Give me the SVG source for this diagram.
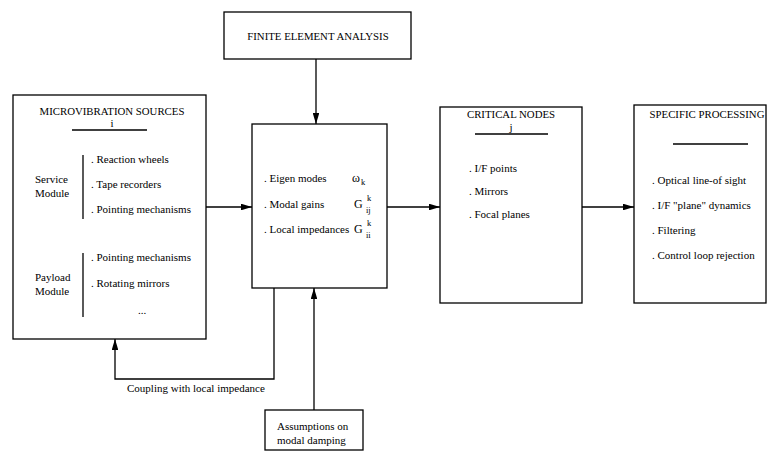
<svg xmlns="http://www.w3.org/2000/svg" width="767" height="456" viewBox="0 0 767 456">
  <style>
    .box { fill: #ffffff; stroke: #000000; stroke-width: 1.3; }
    .rule { stroke: #000000; stroke-width: 1.3; fill: none; }
    .wire { stroke: #000000; stroke-width: 1.3; fill: none; }
    text { font-family: "Liberation Serif", "Times New Roman", serif; font-size: 11px; fill: #000000; }
    .title { font-size: 10.8px; text-anchor: middle; }
    .mid { text-anchor: middle; }
    .sym { font-size: 12px; }
    .idx { font-size: 8.5px; }
  </style>
  <defs>
    <marker id="head" viewBox="0 0 10 6" refX="10" refY="3" markerWidth="11" markerHeight="6.6" markerUnits="userSpaceOnUse" orient="auto">
      <path d="M0,0 L10,3 L0,6 Z" fill="#000000"/>
    </marker>
  </defs>

  <rect width="767" height="456" fill="#ffffff"/>

  <!-- connectors -->
  <g id="connectors">
    <path class="wire" d="M316,59 V124" marker-end="url(#head)"/>
    <path class="wire" d="M206,207 H252" marker-end="url(#head)"/>
    <path class="wire" d="M387,207 H440" marker-end="url(#head)"/>
    <path class="wire" d="M582,207 H634" marker-end="url(#head)"/>
    <path class="wire" d="M274,288 V379 H115 V339" marker-end="url(#head)"/>
    <path class="wire" d="M314,410 V288" marker-end="url(#head)"/>
    <text x="127" y="392">Coupling with local impedance</text>
  </g>

  <!-- finite element analysis -->
  <g id="fea">
    <rect class="box" x="224" y="12" width="187" height="47"/>
    <text class="title" x="318" y="40">FINITE ELEMENT ANALYSIS</text>
  </g>

  <!-- microvibration sources -->
  <g id="sources">
    <rect class="box" x="13" y="95" width="193" height="244"/>
    <text class="title" x="112" y="115">MICROVIBRATION SOURCES</text>
    <text class="mid" x="112" y="127">i</text>
    <line class="rule" x1="72" y1="130" x2="147" y2="130"/>
    <line class="rule" x1="83" y1="155" x2="83" y2="219"/>
    <text x="35" y="183">Service</text>
    <text x="35" y="197">Module</text>
    <text x="91" y="163">. Reaction wheels</text>
    <text x="91" y="188">. Tape recorders</text>
    <text x="91" y="213">. Pointing mechanisms</text>
    <line class="rule" x1="83" y1="253" x2="83" y2="317"/>
    <text x="35" y="281">Payload</text>
    <text x="35" y="295">Module</text>
    <text x="91" y="261">. Pointing mechanisms</text>
    <text x="91" y="287">. Rotating mirrors</text>
    <text x="138" y="314">...</text>
  </g>

  <!-- modal model -->
  <g id="modal">
    <rect class="box" x="252" y="124" width="135" height="164"/>
    <text x="264" y="182">. Eigen modes</text>
    <text x="264" y="208">. Modal gains</text>
    <text x="264" y="233">. Local impedances</text>
    <text class="sym" x="352" y="182">ω<tspan class="idx" dx="1" dy="3">k</tspan></text>
    <text class="sym" x="354" y="208">G</text>
    <text class="idx" x="367" y="201">k</text>
    <text class="idx" x="366" y="213">ij</text>
    <text class="sym" x="354" y="233">G</text>
    <text class="idx" x="367" y="226">k</text>
    <text class="idx" x="366" y="238">ii</text>
  </g>

  <!-- critical nodes -->
  <g id="critical">
    <rect class="box" x="440" y="107" width="142" height="196"/>
    <text class="title" x="511" y="118">CRITICAL NODES</text>
    <text class="mid" x="511" y="131">j</text>
    <line class="rule" x1="475" y1="134" x2="548" y2="134"/>
    <text x="469" y="172">. I/F points</text>
    <text x="469" y="195">. Mirrors</text>
    <text x="469" y="218">. Focal planes</text>
  </g>

  <!-- specific processing -->
  <g id="processing">
    <rect class="box" x="634" y="105" width="132" height="198"/>
    <text class="title" x="707" y="118">SPECIFIC PROCESSING</text>
    <line class="rule" x1="673" y1="144" x2="748" y2="144"/>
    <text x="652" y="184">. Optical line-of sight</text>
    <text x="652" y="209">. I/F "plane" dynamics</text>
    <text x="652" y="234">. Filtering</text>
    <text x="652" y="259">. Control loop rejection</text>
  </g>

  <!-- damping assumptions -->
  <g id="damping">
    <rect class="box" x="265" y="410" width="98" height="40"/>
    <text x="277" y="430">Assumptions on</text>
    <text x="277" y="444">modal damping</text>
  </g>
</svg>
